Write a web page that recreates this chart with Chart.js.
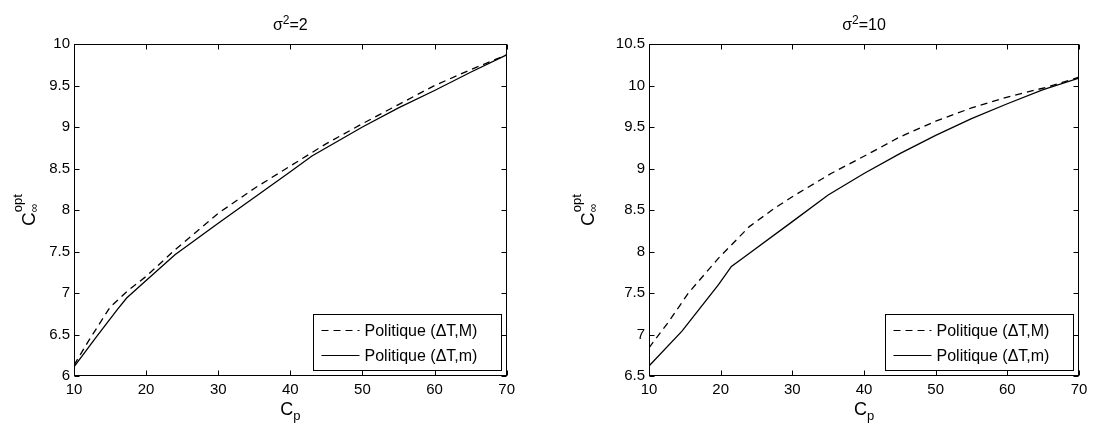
<!DOCTYPE html>
<html>
<head>
<meta charset="utf-8">
<script src="https://cdn.jsdelivr.net/npm/chart.js@4/dist/chart.umd.min.js"></script>
<style>
  body { margin: 0; background: #fff; }
  #wrap { position: relative; width: 1095px; height: 425px; }
  canvas { position: absolute; top: 0; }
</style>
</head>
<body>
<div id="wrap">
  <canvas id="left" width="520" height="425" style="left:0"></canvas>
  <canvas id="right" width="575" height="425" style="left:520px"></canvas>
</div>
<script>
// tick labels
const cpTicks = [10, 20, 30, 40, 50, 60, 70];
const coptTicks2 = [6, 6.5, 7, 7.5, 8, 8.5, 9, 9.5, 10];
const coptTicks10 = [6.5, 7, 7.5, 8, 8.5, 9, 9.5, 10, 10.5];

// sigma^2 = 2
const cpM2 = [10, 12, 15, 17.5, 20, 24, 30, 35, 40, 45, 50, 55, 60, 65, 70];
const coptM2 = [6.13, 6.42, 6.83, 7.03, 7.2, 7.52, 7.96, 8.26, 8.53, 8.8, 9.04, 9.27, 9.5, 9.69, 9.87];
const cpm2 = [10, 13, 16, 17.3, 20, 24, 30, 35, 40, 43, 50, 55, 60, 65, 70];
const coptm2 = [6.11, 6.46, 6.8, 6.94, 7.15, 7.46, 7.84, 8.15, 8.46, 8.65, 9.0, 9.23, 9.44, 9.66, 9.87];

// sigma^2 = 10
const cpM10 = [10, 12.8, 15.5, 19.7, 24, 27.5, 30, 35.4, 40.5, 45, 50, 55, 60, 65.5, 70];
const coptM10 = [6.84, 7.16, 7.5, 7.92, 8.3, 8.52, 8.66, 8.94, 9.17, 9.38, 9.57, 9.73, 9.86, 9.98, 10.1];
const cpm10 = [10, 14.6, 19.7, 21.5, 23.4, 30, 35, 40, 45, 50, 55, 60, 65, 70];
const coptm10 = [6.62, 7.04, 7.6, 7.82, 7.94, 8.36, 8.68, 8.94, 9.18, 9.4, 9.6, 9.78, 9.95, 10.09];

const legendLabels = ['Politique (\u0394T,M)', 'Politique (\u0394T,m)'];
const FONT = '"Liberation Sans", Arial, sans-serif';

function pts(xs, ys) {
  return xs.map((x, i) => ({ x: x, y: ys[i] }));
}

// box, inward ticks, title, axis labels and legend, MATLAB style
const matlabFrame = {
  id: 'matlabFrame',
  afterDatasetsDraw(chart, args, opts) {
    const ctx = chart.ctx;
    const ca = chart.chartArea;
    const xs = chart.scales.x, ys = chart.scales.y;
    const L = Math.round(ca.left) + 0.5, R = Math.round(ca.right) - 0.5;
    const T = Math.round(ca.top) + 0.5, B = Math.round(ca.bottom) - 0.5;
    ctx.save();
    ctx.strokeStyle = '#000';
    ctx.lineWidth = 1;
    ctx.setLineDash([]);
    ctx.strokeRect(L, T, R - L, B - T);
    ctx.beginPath();
    xs.ticks.forEach(t => {
      const p = Math.round(xs.getPixelForValue(t.value)) + 0.5;
      ctx.moveTo(p, B); ctx.lineTo(p, B - 5);
      ctx.moveTo(p, T); ctx.lineTo(p, T + 5);
    });
    ys.ticks.forEach(t => {
      const p = Math.round(ys.getPixelForValue(t.value)) + 0.5;
      ctx.moveTo(L, p); ctx.lineTo(L + 5, p);
      ctx.moveTo(R, p); ctx.lineTo(R - 5, p);
    });
    ctx.stroke();

    ctx.fillStyle = '#000';
    ctx.textBaseline = 'alphabetic';
    const cx = (ca.left + ca.right) / 2;

    // title: sigma^2=value
    ctx.font = '16px ' + FONT;
    const wS = ctx.measureText('\u03c3').width;
    const wE = ctx.measureText('=' + opts.sigma).width;
    ctx.font = '12px ' + FONT;
    const w2 = ctx.measureText('2').width;
    let tx = cx - (wS + w2 + wE) / 2;
    ctx.font = '16px ' + FONT;
    ctx.fillText('\u03c3', tx, 30);
    ctx.font = '12px ' + FONT;
    ctx.fillText('2', tx + wS, 24);
    ctx.font = '16px ' + FONT;
    ctx.fillText('=' + opts.sigma, tx + wS + w2, 30);

    // x label: C_p
    ctx.font = '18px ' + FONT;
    const wC = ctx.measureText('C').width;
    ctx.font = '13px ' + FONT;
    const wp = ctx.measureText('p').width;
    tx = cx - (wC + wp) / 2;
    ctx.font = '18px ' + FONT;
    ctx.fillText('C', tx, 415);
    ctx.font = '13px ' + FONT;
    ctx.fillText('p', tx + wC, 420);

    // y label: C_inf^opt, rotated
    const cy = (ca.top + ca.bottom) / 2;
    ctx.save();
    ctx.translate(opts.ylabelX, cy);
    ctx.rotate(-Math.PI / 2);
    ctx.font = '13px ' + FONT;
    const wOpt = ctx.measureText('opt').width;
    ctx.font = '19px ' + FONT;
    const wC2 = ctx.measureText('C').width;
    const x0 = -(wC2 + wOpt) / 2;
    ctx.fillText('C', x0, 0);
    ctx.font = '13px ' + FONT;
    ctx.fillText('opt', x0 + wC2, -13);
    ctx.font = '12px ' + FONT;
    ctx.fillText('\u221e', x0 + wC2, 3);
    ctx.restore();

    // legend inside, lower right
    const bw = 188, bh = 56;
    const bx = Math.round(ca.right) - 6 - bw + 0.5;
    const by = Math.round(ca.bottom) - 6 - bh + 0.5;
    ctx.fillStyle = '#fff';
    ctx.fillRect(bx, by, bw, bh);
    ctx.strokeStyle = '#000';
    ctx.lineWidth = 1;
    ctx.strokeRect(bx, by, bw, bh);
    ctx.font = '16px ' + FONT;
    ctx.fillStyle = '#000';
    chart.data.datasets.forEach((ds, i) => {
      const ly = by + 16 + i * 25;
      ctx.beginPath();
      ctx.lineWidth = 1.2;
      ctx.setLineDash(ds.borderDash || []);
      ctx.moveTo(bx + 8, ly);
      ctx.lineTo(bx + 46, ly);
      ctx.stroke();
      ctx.setLineDash([]);
      ctx.fillText(ds.label, bx + 51, ly + 5.5);
    });
    ctx.restore();
  }
};

function makeChart(id, sigma, mX, mY, sX, sY, yTicks, yWidth, padRight, ylabelX) {
  const ctx = document.getElementById(id).getContext('2d');
  return new Chart(ctx, {
    type: 'line',
    data: {
      datasets: [{
        label: legendLabels[0],
        data: pts(mX, mY),
        borderColor: '#000',
        borderWidth: 1.3,
        borderDash: [7, 5],
        pointRadius: 0,
        tension: 0,
        fill: false
      }, {
        label: legendLabels[1],
        data: pts(sX, sY),
        borderColor: '#000',
        borderWidth: 1.3,
        pointRadius: 0,
        tension: 0,
        fill: false
      }]
    },
    options: {
      responsive: false,
      animation: false,
      devicePixelRatio: 1,
      layout: { padding: { top: 44, right: padRight, left: 0, bottom: 0 } },
      plugins: {
        legend: { display: false },
        tooltip: { enabled: false },
        matlabFrame: { sigma: sigma, ylabelX: ylabelX }
      },
      scales: {
        x: {
          type: 'linear',
          min: cpTicks[0],
          max: cpTicks[cpTicks.length - 1],
          afterBuildTicks: s => { s.ticks = cpTicks.map(v => ({ value: v })); },
          afterFit: s => { s.height = 49; },
          grid: { display: false, drawTicks: false },
          border: { display: false },
          ticks: {
            padding: 5,
            color: '#000',
            font: { family: FONT, size: 15 },
            maxRotation: 0,
            callback: v => String(v)
          }
        },
        y: {
          type: 'linear',
          min: yTicks[0],
          max: yTicks[yTicks.length - 1],
          afterBuildTicks: s => { s.ticks = yTicks.map(v => ({ value: v })); },
          afterFit: s => { s.width = yWidth; },
          grid: { display: false, drawTicks: false },
          border: { display: false },
          ticks: {
            padding: 4,
            color: '#000',
            font: { family: FONT, size: 15 },
            callback: v => String(v)
          }
        }
      }
    },
    plugins: [matlabFrame]
  });
}

makeChart('left', '2', cpM2, coptM2, cpm2, coptm2, coptTicks2, 74, 12, 35);
makeChart('right', '10', cpM10, coptM10, cpm10, coptm10, coptTicks10, 129, 16, 74);
</script>
</body>
</html>
